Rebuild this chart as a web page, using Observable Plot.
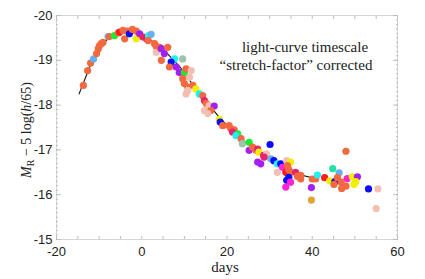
<!DOCTYPE html>
<html><head><meta charset="utf-8">
<script src="https://cdn.jsdelivr.net/npm/d3@7"></script>
<script src="https://cdn.jsdelivr.net/npm/@observablehq/plot@0.6"></script>
<style>body{margin:0;background:#fff} svg{display:block}</style>
</head><body><div id="chart"></div>
<script>
const days = [-13.7,-12.7,-12.0,-11.3,-10.6,-10.2,-9.9,-9.5,-9.1,-7.9,-7.6,-6.4,-5.5,-5.2,-4.4,-4.0,-3.4,-2.9,-2.2,-1.3,
  -1.3,-0.5,0.3,1.1,1.6,2.2,1.5,3.0,3.4,3.4,4.2,4.6,5.3,6.1,4.6,7.7,6.9,6.5,8.1,8.8,
  9.6,10.0,10.4,11.6,11.2,9.6,10.0,10.8,12.0,12.7,10.8,13.5,14.3,14.7,15.1,15.8,17.0,10.4,14.7,16.2,
  15.5,18.2,18.4,19.0,20.5,20.9,21.7,21.3,22.5,22.1,23.3,23.6,25.2,25.2,26.0,26.8,27.2,27.5,28.6,29.3,
  30.1,27.2,27.9,28.7,30.3,31.0,31.8,32.6,33.0,34.0,34.9,34.2,31.8,33.8,34.9,36.1,34.5,36.5,37.3,34.0,
  34.9,33.8,34.5,37.3,39.8,40.0,40.8,41.2,39.8,42.9,44.1,44.8,46.3,45.3,45.9,45.1,46.8,46.9,47.9,48.2,
  49.4,50.6,50.2,49.8,47.9,53.2,55.4,55.0];
const mags = [-18.44,-18.77,-18.94,-19.03,-19.15,-19.26,-19.33,-19.37,-19.40,-19.53,-19.53,-19.55,-19.61,-19.63,-19.67,-19.48,-19.65,-19.59,-19.69,-19.65,
  -19.48,-19.59,-19.52,-19.48,-19.55,-19.58,-19.44,-19.37,-19.31,-19.18,-19.29,-19.26,-19.15,-19.29,-19.00,-19.03,-18.96,-18.85,-18.85,-18.73,
  -19.03,-18.73,-18.81,-18.77,-18.62,-18.59,-18.48,-18.40,-18.44,-18.36,-18.33,-18.25,-18.21,-18.10,-18.04,-17.99,-17.98,-18.25,-17.88,-17.88,
  -17.81,-17.69,-17.62,-17.54,-17.54,-17.47,-17.45,-17.40,-17.36,-17.32,-17.25,-17.14,-17.17,-16.99,-17.06,-16.99,-17.02,-16.95,-16.88,-16.91,
  -17.12,-16.73,-16.69,-16.84,-16.80,-16.76,-16.69,-16.69,-16.61,-16.76,-16.73,-16.65,-16.50,-16.50,-16.50,-16.50,-16.39,-16.41,-16.43,-16.32,
  -16.28,-16.17,-16.56,-16.35,-16.16,-16.35,-16.35,-16.44,-15.88,-16.38,-16.31,-16.58,-16.49,-16.29,-16.38,-16.23,-16.28,-16.14,-16.19,-16.36,
  -16.40,-16.40,-16.29,-16.23,-16.97,-16.13,-16.13,-15.69];
const groups = ("o o o l o o o o o l o g o r o o o b o o " +
  "y p k k c l o o o f o p p o o c b o p p " +
  "s g o f f o o o o y f c o k o f p f f o " +
  "f y b o o o o k g c o s g p o o k y k f " +
  "b p p k l b c b m f y o f r o k b o o b " +
  "m m o o p o o c d r y t l b o o o o o m " +
  "y p y y o b f f").trim().split(/\s+/);
const groupNames  = ["o","r","b","p","m","c","g","y","l","f","k","s","t","d"];
const groupColors = ["#f2693f","#ff1c1c","#0c0cf5","#a41ff0","#ff24d2","#22f0f0","#12ee34","#f2ee00","#62b2f2","#f2bfb2","#e8226c","#9cc4a8","#22e0a2","#e0a632"];
const templateDays = [-14.7,-12,-10,-8,-6,-4,-2,0,3,6,9,12,15,18,21,24,27,30,33,36,40];
const templateMags = [-18.25,-18.9,-19.25,-19.48,-19.6,-19.66,-19.65,-19.57,-19.4,-19.15,-18.85,-18.45,-18.1,-17.75,-17.45,-17.2,-16.97,-16.78,-16.6,-16.47,-16.38];
const xTicks = [-20,0,20,40,60];
const yTicks = [-20,-19,-18,-17,-16,-15];
const xMinor = d3.range(-20,60.01,5);
const yMinor = d3.range(-20,-14.99,0.1).map(v=>+v.toFixed(1));

const points = days.map((d,i)=>({day:d, mag:mags[i], g:groups[i]}));
const template = templateDays.map((d,i)=>({day:d, mag:templateMags[i]}));
const fmt = d => String(d);
const tickStroke = "#bdbdbd";

const plot = Plot.plot({
  width:425, height:279, marginLeft:56, marginRight:28, marginTop:15, marginBottom:40,
  style:{fontFamily:"'Liberation Sans', Arial, sans-serif", fontSize:"13px", background:"#fff", color:"#222"},
  x:{domain:[-20,60]},
  y:{domain:[-15,-20]},
  color:{domain:groupNames, range:groupColors},
  marks:[
    Plot.frame({stroke:"#d6d6d6"}),
    Plot.axisX({ticks:xMinor, anchor:"bottom", tickSize:3, insetBottom:3, tickFormat:()=>"", label:null, stroke:tickStroke}),
    Plot.axisX({ticks:xMinor, anchor:"top", tickSize:3, insetTop:3, tickFormat:()=>"", label:null, stroke:tickStroke}),
    Plot.axisY({ticks:yMinor, anchor:"left", tickSize:2, insetLeft:2, tickFormat:()=>"", label:null, stroke:tickStroke}),
    Plot.axisY({ticks:yMinor, anchor:"right", tickSize:2, insetRight:2, tickFormat:()=>"", label:null, stroke:tickStroke}),
    Plot.axisY({ticks:yTicks, anchor:"left", tickSize:5, insetLeft:5, tickFormat:()=>"", label:null, stroke:tickStroke}),
    Plot.axisY({ticks:yTicks, anchor:"right", tickSize:5, insetRight:5, tickFormat:()=>"", label:null, stroke:tickStroke}),
    Plot.axisX({ticks:xTicks, anchor:"bottom", tickSize:0, tickPadding:7, tickFormat:fmt, label:null}),
    Plot.axisY({ticks:yTicks, anchor:"left", tickSize:0, tickPadding:4, tickFormat:fmt, label:null}),
    Plot.line(template, {x:"day", y:"mag", stroke:"#111", strokeWidth:1.1}),
    Plot.dot(points, {x:"day", y:"mag", fill:"g", r:3.6, stroke:"none"})
  ]
});
document.getElementById("chart").appendChild(plot);

const svg = d3.select(plot);
const serif = "'Liberation Serif', 'Times New Roman', serif";
function addText(x, y, str, size, anchor="middle") {
  return svg.append("text").attr("x", x).attr("y", y).attr("text-anchor", anchor)
    .attr("font-family", serif).attr("font-size", size).attr("fill", "#222").text(str);
}
addText(305, 52, "light-curve timescale", 15);
addText(296, 70, "\u201cstretch-factor\u201d corrected", 15);
addText(225, 272, "days", 15);
const yl = svg.append("text").attr("transform", "translate(31,130) rotate(-90)")
  .attr("text-anchor", "middle").attr("font-family", serif).attr("font-size", 14).attr("fill", "#222");
yl.append("tspan").attr("font-style", "italic").text("M");
yl.append("tspan").attr("font-size", 10).attr("dy", 3).text("R");
yl.append("tspan").attr("dy", -3).text(" \u2212 5 log(");
yl.append("tspan").attr("font-style", "italic").text("h");
yl.append("tspan").text("/65)");
</script></body></html>
